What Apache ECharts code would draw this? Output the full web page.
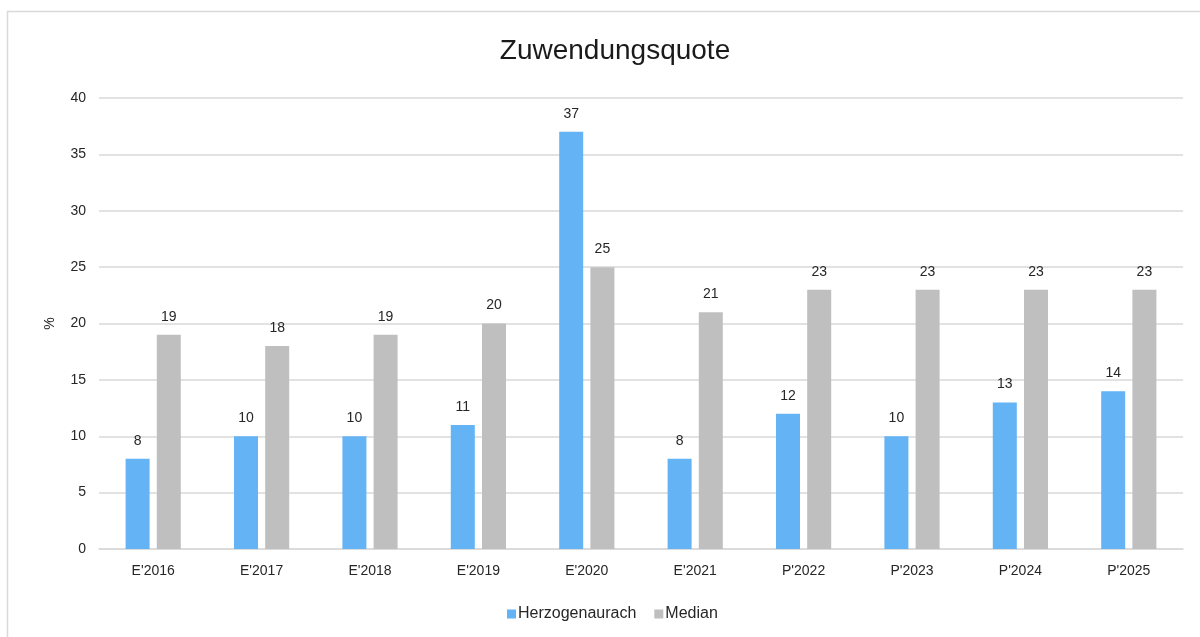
<!DOCTYPE html>
<html>
<head>
<meta charset="utf-8">
<script src="https://cdn.jsdelivr.net/npm/echarts@6/dist/echarts.min.js"></script>
<style>html,body{margin:0;padding:0;background:#fff;}#c{width:1200px;height:637px;}</style>
</head>
<body>
<div id="c"></div>
<script>
const categories = ["E'2016","E'2017","E'2018","E'2019","E'2020","E'2021","P'2022","P'2023","P'2024","P'2025"];
const herzogenaurach = [8,10,10,11,37,8,12,10,13,14];
const median = [19,18,19,20,25,21,23,23,23,23];
const yTicks = [0,5,10,15,20,25,30,35,40];

const font = "'Liberation Sans', Arial, sans-serif";
const chart = echarts.init(document.getElementById('c'), null, {renderer:'canvas'});
const labelStyle = {show:true, position:'top', distance:11, color:'#262626', fontSize:14, fontFamily:font};
chart.setOption({
  animation:false,
  backgroundColor:'#fff',
  graphic:[{type:'rect', shape:{x:7.5,y:11.5,width:1300,height:700}, style:{fill:'none', stroke:'#d9d9d9', lineWidth:1.5}, silent:true}],
  title:{text:'Zuwendungsquote', left:610, textAlign:'center', top:32, textStyle:{fontFamily:font, fontSize:28, fontWeight:'normal', color:'#1a1a1a'}},
  legend:{bottom:10, left:502, itemWidth:9, itemHeight:9, itemGap:18, icon:'rect',
    textStyle:{fontFamily:font, fontSize:16, color:'#262626', padding:[0,0,0,-3]},
    data:['Herzogenaurach','Median']},
  grid:{left:99, right:17, top:98, bottom:88},
  xAxis:{type:'category', data:categories,
    axisLine:{lineStyle:{color:'#d9d9d9', width:1.5}}, axisTick:{show:false},
    axisLabel:{fontFamily:font, fontSize:14, color:'#262626', margin:15}},
  yAxis:{type:'value', min:yTicks[0], max:yTicks[yTicks.length-1], interval:5,
    name:'%', nameLocation:'middle', nameGap:42, nameRotate:90,
    nameTextStyle:{fontFamily:font, fontSize:14, color:'#262626'},
    axisLine:{show:false}, axisTick:{show:false},
    axisLabel:{fontFamily:font, fontSize:14, color:'#262626', margin:13},
    splitLine:{lineStyle:{color:'#d9d9d9', width:1.5}}},
  series:[
    {name:'Herzogenaurach', type:'bar', data:herzogenaurach, barWidth:24, barGap:'30%',
     itemStyle:{color:'#63b3f5'}, label:labelStyle},
    {name:'Median', type:'bar', data:median, barWidth:24,
     itemStyle:{color:'#bfbfbf'}, label:labelStyle}
  ]
});
</script>
</body>
</html>
